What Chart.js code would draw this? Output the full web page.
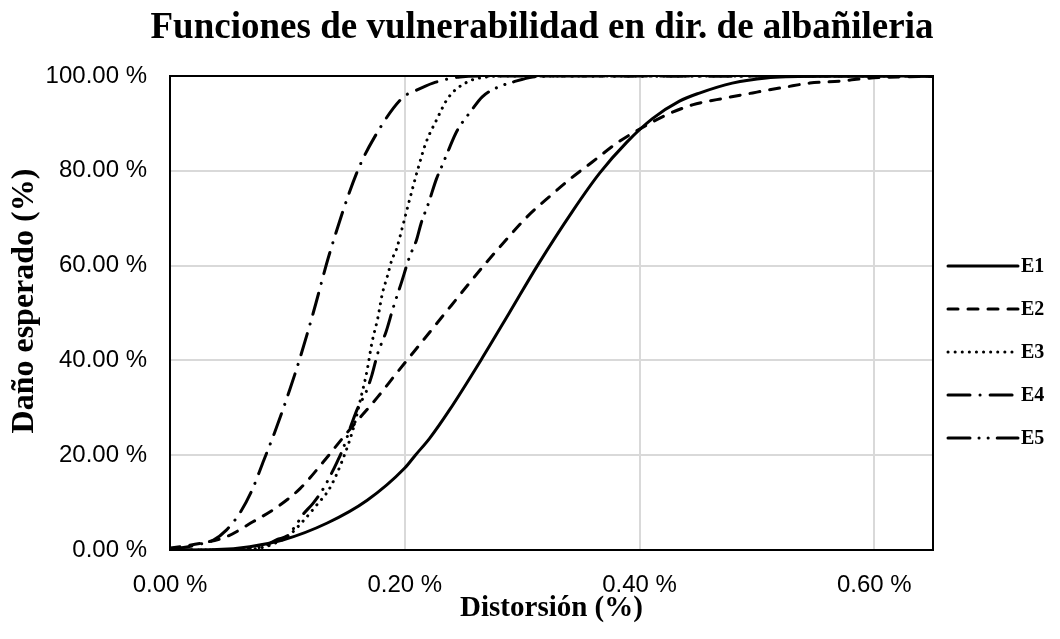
<!DOCTYPE html>
<html>
<head>
<meta charset="utf-8">
<script src="https://cdn.jsdelivr.net/npm/chart.js@4/dist/chart.umd.min.js"></script>
<style>
  body { margin: 0; background: #fff; }
</style>
</head>
<body>
<canvas id="vulnChart" width="1060" height="639"></canvas>
<script>
// vulnerability curves (x: distortion %, y: expected damage %)
const chartTitle = 'Funciones de vulnerabilidad en dir. de albañileria';
const xTicks = [0, 0.2, 0.4, 0.6];
const yTicks = [0, 20, 40, 60, 80, 100];
const labels = ['E1', 'E2', 'E3', 'E4', 'E5'];

const e1X = [0, 0.04, 0.068, 0.096, 0.134, 0.168, 0.2, 0.209, 0.221, 0.238, 0.265, 0.289, 0.313, 0.343, 0.366, 0.389, 0.411, 0.434, 0.451, 0.479, 0.508, 0.55, 0.65];
const e1Y = [0, 0.1, 0.7, 2.1, 5.7, 10.5, 17.3, 20, 23.5, 29.5, 40.1, 50, 60, 71.5, 79.5, 86, 91, 94.7, 96.4, 98.5, 99.6, 99.95, 100];

const e2X = [0, 0.026, 0.048, 0.071, 0.091, 0.111, 0.13, 0.15, 0.177, 0.193, 0.209, 0.224, 0.24, 0.255, 0.27, 0.283, 0.305, 0.323, 0.342, 0.36, 0.381, 0.403, 0.423, 0.445, 0.474, 0.5, 0.525, 0.545, 0.57, 0.593, 0.62, 0.65];
const e2Y = [0.4, 1.4, 2.8, 6, 9, 13, 18.4, 24.5, 32.3, 37.3, 42.2, 46.8, 51.7, 56.3, 60.8, 64.5, 70.5, 74.5, 78.5, 81.9, 85.9, 89.2, 91.8, 93.9, 95.4, 96.6, 97.7, 98.5, 98.9, 99.5, 99.8, 99.9];

const e3X = [0, 0.06, 0.08, 0.09, 0.1, 0.113, 0.125, 0.136, 0.147, 0.156, 0.162, 0.168, 0.172, 0.177, 0.181, 0.185, 0.189, 0.193, 0.198, 0.204, 0.211, 0.218, 0.227, 0.237, 0.253, 0.27, 0.29, 0.65];
const e3Y = [0, 0.1, 0.6, 1.5, 2.8, 6, 9.5, 13, 19, 25.5, 31.5, 38, 43.7, 48.9, 54.2, 57.6, 61.2, 63.5, 68.1, 73.8, 80.2, 85.9, 90.7, 95.4, 98.7, 99.8, 100, 100];

const e4X = [0, 0.01, 0.025, 0.037, 0.048, 0.06, 0.07, 0.08, 0.089, 0.102, 0.111, 0.122, 0.136, 0.159, 0.174, 0.198, 0.21, 0.224, 0.247, 0.27, 0.65];
const e4Y = [0.3, 0.5, 1.2, 2.1, 4.2, 8, 12.7, 19, 24.7, 33.8, 40.7, 50, 62.6, 79.5, 87, 95.4, 97, 98.5, 99.8, 100, 100];

const e5X = [0, 0.06, 0.08, 0.091, 0.1, 0.108, 0.113, 0.122, 0.13, 0.136, 0.142, 0.147, 0.155, 0.16, 0.167, 0.172, 0.177, 0.184, 0.19, 0.197, 0.204, 0.21, 0.214, 0.22, 0.227, 0.232, 0.238, 0.244, 0.257, 0.266, 0.278, 0.292, 0.309, 0.33, 0.65];
const e5Y = [0, 0.1, 0.8, 2.2, 3, 5.5, 7.4, 9.9, 12.7, 15.4, 18.4, 21.1, 26.8, 30, 33.3, 36.9, 41.5, 46, 51, 56.3, 61.8, 65.4, 69, 73, 78.3, 81.2, 84.8, 88.2, 92.8, 95.6, 97.5, 98.7, 99.8, 100, 100];

const serif = '"Liberation Serif", "Times New Roman", serif';
const sans = '"Liberation Sans", Arial, sans-serif';

function pts(xs, ys) {
  return xs.map((x, i) => ({ x, y: ys[i] }));
}

function line(label, xs, ys, dash) {
  return {
    label,
    data: pts(xs, ys),
    borderColor: '#000',
    borderWidth: 3,
    borderDash: dash,
    borderCapStyle: 'round',
    pointRadius: 0,
    showLine: true,
    fill: false,
    cubicInterpolationMode: 'monotone'
  };
}

// title centred over the whole figure, not just the plot+axes box
const titlePlugin = {
  id: 'bigTitle',
  afterDraw(chart) {
    const ctx = chart.ctx;
    ctx.save();
    ctx.fillStyle = '#000';
    ctx.font = 'bold 37px ' + serif;
    ctx.textAlign = 'center';
    ctx.textBaseline = 'alphabetic';
    ctx.fillText(chartTitle, 542, 38);
    ctx.restore();
  }
};

// plot frame (top and right sides too)
const framePlugin = {
  id: 'frame',
  afterDatasetsDraw(chart) {
    const { ctx, chartArea: a } = chart;
    ctx.save();
    ctx.strokeStyle = '#000';
    ctx.lineWidth = 2;
    ctx.strokeRect(a.left, a.top, a.right - a.left, a.bottom - a.top);
    ctx.restore();
  }
};

// legend on the right with line samples
const sideLegend = {
  id: 'sideLegend',
  afterDraw(chart) {
    const { ctx, chartArea: a } = chart;
    chart.data.datasets.forEach((ds, i) => {
      const y = 266 + i * 43;
      const x0 = a.right + 15;
      ctx.save();
      ctx.strokeStyle = '#000';
      ctx.lineWidth = 3;
      ctx.lineCap = 'round';
      ctx.setLineDash(ds.borderDash);
      ctx.beginPath();
      ctx.moveTo(x0, y);
      ctx.lineTo(x0 + 70, y);
      ctx.stroke();
      ctx.setLineDash([]);
      ctx.fillStyle = '#000';
      ctx.font = 'bold 20px ' + serif;
      ctx.textBaseline = 'middle';
      ctx.fillText(ds.label, x0 + 73, y + 1);
      ctx.restore();
    });
  }
};

new Chart(document.getElementById('vulnChart').getContext('2d'), {
  type: 'scatter',
  data: {
    datasets: [
      line(labels[0], e1X, e1Y, []),
      line(labels[1], e2X, e2Y, [10, 10]),
      line(labels[2], e3X, e3Y, [0.1, 7]),
      line(labels[3], e4X, e4Y, [22, 10, 0.1, 10]),
      line(labels[4], e5X, e5Y, [22, 9, 0.1, 9, 0.1, 9])
    ]
  },
  options: {
    responsive: false,
    animation: false,
    layout: { padding: { top: 76, right: 127 } },
    plugins: {
      legend: { display: false },
      tooltip: { enabled: false },
      title: { display: false }
    },
    scales: {
      x: {
        type: 'linear',
        min: 0,
        max: 0.65,
        afterBuildTicks: s => { s.ticks = xTicks.map(v => ({ value: v })); },
        afterFit: s => { s.height = 89; },
        grid: { color: '#d9d9d9', lineWidth: 2, drawTicks: false },
        border: { color: '#000', width: 2 },
        ticks: {
          color: '#000',
          padding: 21,
          font: { family: sans, size: 24 },
          callback: v => v.toFixed(2) + ' %'
        },
        title: {
          display: true,
          text: 'Distorsión (%)',
          color: '#000',
          font: { family: serif, size: 29, weight: 'bold' },
          padding: { top: 0, bottom: 13 }
        }
      },
      y: {
        min: 0,
        max: 100,
        afterBuildTicks: s => { s.ticks = yTicks.map(v => ({ value: v })); },
        afterFit: s => { s.width = 170; },
        grid: { color: '#d9d9d9', lineWidth: 2, drawTicks: false },
        border: { color: '#000', width: 2 },
        ticks: {
          color: '#000',
          padding: 23,
          font: { family: sans, size: 24 },
          callback: v => v.toFixed(2) + ' %'
        },
        title: {
          display: true,
          text: '   Daño esperado (%)',
          color: '#000',
          font: { family: serif, size: 32, weight: 'bold' },
          padding: { top: 6, bottom: 0 }
        }
      }
    }
  },
  plugins: [framePlugin, sideLegend, titlePlugin]
});
</script>
</body>
</html>
